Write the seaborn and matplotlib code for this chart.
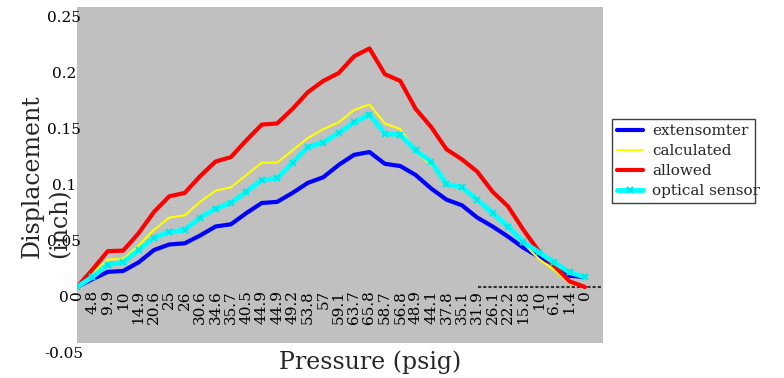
import numpy as np
import pandas as pd
import matplotlib
matplotlib.use("Agg")
import matplotlib.pyplot as plt
import seaborn as sns
from matplotlib.transforms import ScaledTranslation
from matplotlib.patches import Rectangle

pressure_labels = ["0", "4.8", "9.9", "10", "14.9", "20.6", "25", "26", "30.6", "34.6",
                   "35.7", "40.5", "44.9", "44.9", "49.2", "53.8", "57", "59.1", "63.7", "65.8",
                   "58.7", "56.8", "48.9", "44.1", "37.8", "35.1", "31.9", "26.1", "22.2", "15.8",
                   "10", "6.1", "1.4", "0"]

extensomter = [0.000, 0.007, 0.0135, 0.0143, 0.022, 0.033, 0.038, 0.039, 0.046, 0.054,
               0.056, 0.066, 0.075, 0.076, 0.084, 0.093, 0.098, 0.109, 0.118, 0.1205,
               0.110, 0.108, 0.100, 0.088, 0.078, 0.073, 0.062, 0.054, 0.045, 0.035,
               0.027, 0.020, 0.010, 0.009]

calculated = [0.000, 0.012, 0.0245, 0.025, 0.037, 0.051, 0.062, 0.064, 0.076, 0.086,
              0.089, 0.100, 0.111, 0.111, 0.122, 0.133, 0.141, 0.147, 0.158, 0.163,
              0.146, 0.141, 0.121, 0.109, 0.094, 0.087, 0.079, 0.065, 0.055, 0.039,
              0.025, 0.015, 0.0035, 0.000]

allowed = [0.000, 0.0155, 0.032, 0.0325, 0.048, 0.067, 0.081, 0.084, 0.099, 0.112,
           0.116, 0.131, 0.145, 0.146, 0.159, 0.174, 0.184, 0.191, 0.206, 0.213,
           0.190, 0.184, 0.159, 0.143, 0.123, 0.114, 0.103, 0.085, 0.072, 0.051,
           0.032, 0.019, 0.005, 0.000]

optical_sensor = [0.000, 0.009, 0.020, 0.022, 0.033, 0.044, 0.049, 0.051, 0.062, 0.070,
                  0.075, 0.085, 0.0955, 0.097, 0.111, 0.125, 0.129, 0.1375, 0.147, 0.154,
                  0.137, 0.136, 0.122, 0.112, 0.092, 0.089, 0.078, 0.066, 0.054, 0.040,
                  0.031, 0.022, 0.013, 0.009]

y_ticks = [-0.05, 0, 0.05, 0.1, 0.15, 0.2, 0.25]
y_tick_labels = ["-0.05", "0", "0.05", "0.1", "0.15", "0.2", "0.25"]

idx = np.arange(len(pressure_labels))
df = pd.DataFrame({"idx": idx, "extensomter": extensomter, "calculated": calculated,
                   "allowed": allowed, "optical sensor": optical_sensor})

sns.set_theme(style="white")
plt.rcParams["font.family"] = ["DejaVu Serif"]

W, H = 784, 378
fig = plt.figure(figsize=(W / 100, H / 100), dpi=100)
ax = fig.add_axes([77 / W, 1 - 343 / H, (603 - 77) / W, (343 - 7) / H])
ax.set_facecolor("#c0c0c0")
for s in ax.spines.values():
    s.set_visible(False)

ax.axhline(0, xmin=(478 - 77) / (603 - 77), xmax=1, color="#303030", ls=(0, (1.5, 1)), lw=1.5, zorder=1)

sns.lineplot(data=df, x="idx", y="extensomter", color="#0000ff", lw=3, ax=ax,
             label="extensomter", zorder=3)
sns.lineplot(data=df, x="idx", y="calculated", color="#ffff00", lw=1.5, ax=ax,
             label="calculated", zorder=4)
sns.lineplot(data=df, x="idx", y="allowed", color="#ff0000", lw=3, ax=ax,
             label="allowed", zorder=5)
sns.lineplot(data=df, x="idx", y="optical sensor", color="#00ffff", lw=3.5, ax=ax,
             marker="x", markersize=4.5, markeredgewidth=1.5, markeredgecolor="#00e8e8",
             label="optical sensor", zorder=6)

ax.set_xlim(0, 34.17)
ax.set_ylim(-0.05, 0.25)
ax.set_xlabel("")
ax.set_ylabel("")

ax.set_xticks(idx)
ax.set_xticklabels(pressure_labels, rotation=90, fontsize=11, color="black")
ax.tick_params(axis="x", length=0, pad=-(343 - 290) * 0.72)

ax.set_yticks(y_ticks)
ax.set_yticklabels(y_tick_labels, fontsize=11, color="black")
ax.tick_params(axis="y", length=0, pad=13 * 0.72)
off = ScaledTranslation(0, -0.09, fig.dpi_scale_trans)
for lbl in ax.get_yticklabels():
    lbl.set_horizontalalignment("center")
    lbl.set_transform(lbl.get_transform() + off)

fig.text(370 / W, 1 - 362 / H, "Pressure (psig)", ha="center", va="center", fontsize=17)
fig.text(46 / W, 1 - 258 / H, "Displacement\n(inch)", rotation=90, ha="center", va="bottom",
         multialignment="left", fontsize=17, linespacing=1.3)

leg = ax.legend(loc="upper left", bbox_to_anchor=(617 / W, 1 - 124 / H),
                bbox_transform=fig.transFigure, fontsize=11, frameon=False,
                borderpad=0, labelspacing=0.4, handlelength=1.7, handletextpad=0.6,
                borderaxespad=0)
fig.patches.append(Rectangle((612 / W, 1 - 203 / H), (755 - 612) / W, (203 - 119) / H,
                             transform=fig.transFigure, facecolor="white",
                             edgecolor="#404040", lw=1.0, zorder=-1))

fig.savefig("out.png", dpi=100, facecolor="white")
